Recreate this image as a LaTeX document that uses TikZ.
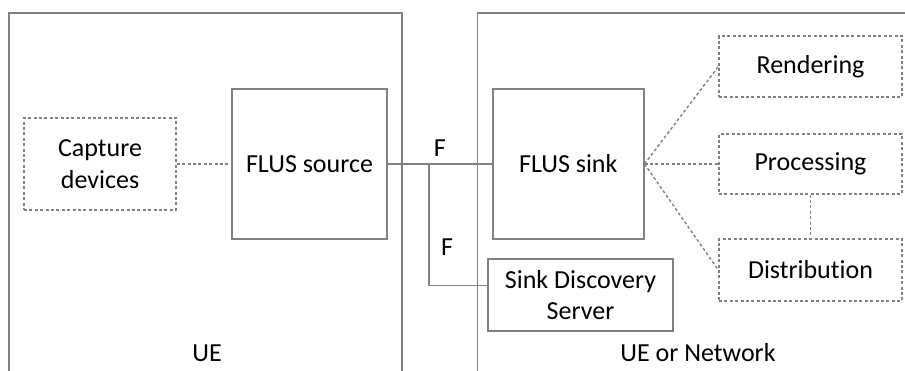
\documentclass[tikz,border=0pt]{standalone}
\usepackage{fontspec}
\setmainfont[Ligatures=NoCommon]{Carlito}
\definecolor{linegray}{RGB}{128,128,128}
\begin{document}
\begin{tikzpicture}[x=1pt,y=-1pt,font=\fontsize{26}{31.5}\selectfont,
  blk/.style={draw=linegray,line width=1.4pt,inner sep=0pt,align=center},
  optblk/.style={blk,dash pattern=on 3pt off 2.4pt},
  ln/.style={draw=linegray,line width=1.4pt},
  dln/.style={ln,dash pattern=on 3pt off 2.4pt}]
\useasboundingbox (0,0) rectangle (905,371);
% outer domains
\draw[ln](9,380)--(9,13)--(402,13)--(402,380);
\draw[ln](477.7,380)--(477.7,13)--(910,13);
\node (ue) at (207,353) {UE};
\node (uenet) at (698,353) {UE or Network};
% UE side
\node[optblk,minimum width=152,minimum height=92] (capture) at (100,164) {Capture\\devices};
\node[blk,minimum width=155,minimum height=150] (source) at (309.5,164) {FLUS source};
% network side
\node[blk,minimum width=151,minimum height=150] (sink) at (568.3,164) {FLUS sink};
\node[blk,minimum width=185,minimum height=72] (sds) at (580.5,295) {Sink Discovery\\Server};
\node[optblk,minimum width=183,minimum height=61] (render) at (810.5,66.5) {Rendering};
\node[optblk,minimum width=183,minimum height=60] (proc) at (810.5,164) {Processing};
\node[optblk,minimum width=183,minimum height=62] (distr) at (810.5,270) {Distribution};
% connectors
\draw[dln](capture)--(source);
\draw[ln](source.east)--node[above=3pt]{F}(sink.west);
\coordinate (fork) at (429,164);
\draw[ln](fork)|-node[pos=0.34,right=8pt]{F}([yshift=9.3pt]sds.west);
\foreach \t in {render,proc,distr} {\draw[dln](sink.east)--(\t.west);}
\draw[dln](proc)--(distr);
\end{tikzpicture}
\end{document}
